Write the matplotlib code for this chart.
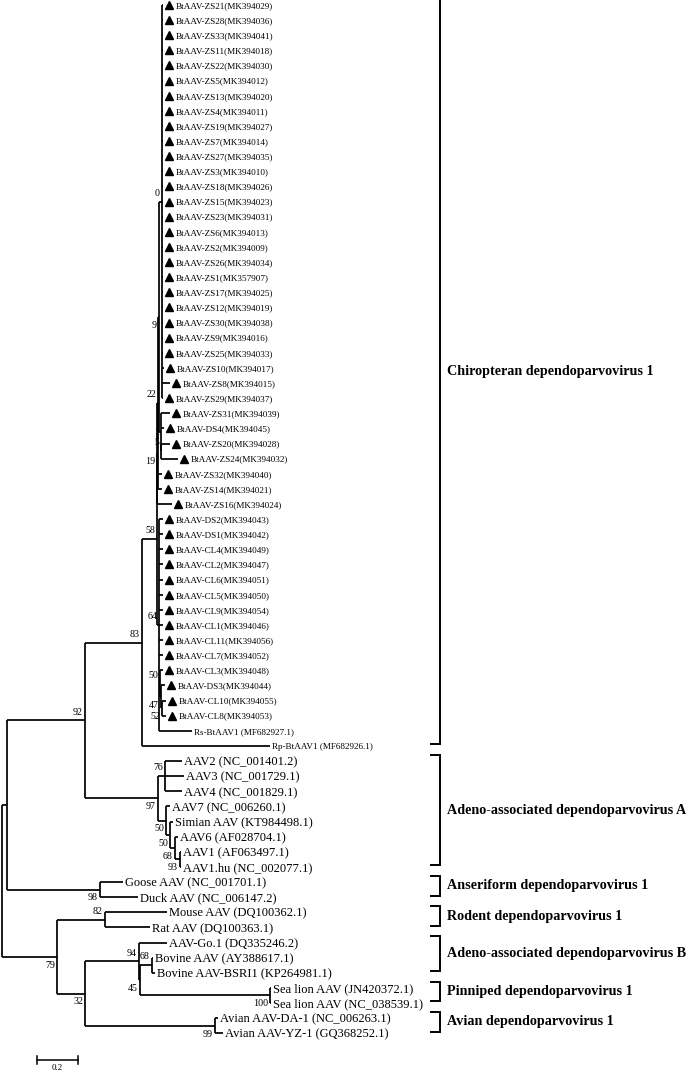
import matplotlib
matplotlib.use("Agg")
import matplotlib.pyplot as plt
from matplotlib.transforms import offset_copy

plt.rcParams['font.family'] = ['Liberation Serif', 'DejaVu Serif']

# --- tip labels, top to bottom ---
leaves = [
    "BtAAV-ZS21(MK394029)", "BtAAV-ZS28(MK394036)", "BtAAV-ZS33(MK394041)", "BtAAV-ZS11(MK394018)",
    "BtAAV-ZS22(MK394030)", "BtAAV-ZS5(MK394012)", "BtAAV-ZS13(MK394020)", "BtAAV-ZS4(MK394011)",
    "BtAAV-ZS19(MK394027)", "BtAAV-ZS7(MK394014)", "BtAAV-ZS27(MK394035)", "BtAAV-ZS3(MK394010)",
    "BtAAV-ZS18(MK394026)", "BtAAV-ZS15(MK394023)", "BtAAV-ZS23(MK394031)", "BtAAV-ZS6(MK394013)",
    "BtAAV-ZS2(MK394009)", "BtAAV-ZS26(MK394034)", "BtAAV-ZS1(MK357907)", "BtAAV-ZS17(MK394025)",
    "BtAAV-ZS12(MK394019)", "BtAAV-ZS30(MK394038)", "BtAAV-ZS9(MK394016)", "BtAAV-ZS25(MK394033)",
    "BtAAV-ZS10(MK394017)", "BtAAV-ZS8(MK394015)", "BtAAV-ZS29(MK394037)", "BtAAV-ZS31(MK394039)",
    "BtAAV-DS4(MK394045)", "BtAAV-ZS20(MK394028)", "BtAAV-ZS24(MK394032)", "BtAAV-ZS32(MK394040)",
    "BtAAV-ZS14(MK394021)", "BtAAV-ZS16(MK394024)", "BtAAV-DS2(MK394043)", "BtAAV-DS1(MK394042)",
    "BtAAV-CL4(MK394049)", "BtAAV-CL2(MK394047)", "BtAAV-CL6(MK394051)", "BtAAV-CL5(MK394050)",
    "BtAAV-CL9(MK394054)", "BtAAV-CL1(MK394046)", "BtAAV-CL11(MK394056)", "BtAAV-CL7(MK394052)",
    "BtAAV-CL3(MK394048)", "BtAAV-DS3(MK394044)", "BtAAV-CL10(MK394055)", "BtAAV-CL8(MK394053)",
    "Rs-BtAAV1 (MF682927.1)", "Rp-BtAAV1 (MF682926.1)",
    "AAV2 (NC_001401.2)", "AAV3 (NC_001729.1)", "AAV4 (NC_001829.1)", "AAV7 (NC_006260.1)",
    "Simian AAV (KT984498.1)", "AAV6 (AF028704.1)", "AAV1 (AF063497.1)", "AAV1.hu (NC_002077.1)",
    "Goose AAV (NC_001701.1)", "Duck AAV (NC_006147.2)",
    "Mouse AAV (DQ100362.1)", "Rat AAV (DQ100363.1)",
    "AAV-Go.1 (DQ335246.2)", "Bovine AAV (AY388617.1)", "Bovine AAV-BSRI1 (KP264981.1)",
    "Sea lion AAV (JN420372.1)", "Sea lion AAV (NC_038539.1)",
    "Avian AAV-DA-1 (NC_006263.1)", "Avian AAV-YZ-1 (GQ368252.1)",
]

# distance of every tip from the root (substitutions/site)
tip_depth = [
    0.785, 0.785, 0.785, 0.785, 0.785, 0.785, 0.785, 0.785, 0.785, 0.785,
    0.785, 0.785, 0.785, 0.785, 0.785, 0.785, 0.785, 0.785, 0.785, 0.785,
    0.785, 0.785, 0.785, 0.785, 0.790, 0.820, 0.785, 0.820, 0.790, 0.820,
    0.859, 0.780, 0.780, 0.829, 0.785, 0.785, 0.785, 0.785, 0.785, 0.785,
    0.785, 0.785, 0.785, 0.785, 0.785, 0.795, 0.800, 0.800, 0.927, 1.307,
    0.878, 0.888, 0.878, 0.820, 0.834, 0.859, 0.873, 0.873,
    0.590, 0.663,
    0.805, 0.722,
    0.805, 0.737, 0.746,
    1.312, 1.312,
    1.054, 1.078,
]

# internal nodes: depth from root, children (int = tip, str = node), bootstrap, label side
nodes = {
    "root": (0.000, ["nA", "n79"], "", "a"),
    "nA":   (0.024, ["n92", "nGD"], "", "a"),
    "n92":  (0.405, ["n83", "n97"], "92", "a"),
    "n83":  (0.683, ["n58", 49], "83", "a"),
    "n58":  (0.756, ["n19", "n64"], "58", "a"),
    "n19":  (0.756, ["n22", 33], "19", "b"),
    "n22":  (0.761, ["n9", 31, 32], "22", "a"),
    "n9":   (0.766, ["nTop", "n1"], "9", "b"),
    "nTop": (0.780, list(range(0, 27)), "0", "a"),
    "n1":   (0.776, [27, 28, "n5"], "1", "c"),
    "n5":   (0.778, [29, 30], "5", "a"),
    "n64":  (0.768, list(range(34, 44)) + ["n50", 48], "64", "a"),
    "n50":  (0.771, [44, "n47"], "50", "a"),
    "n47":  (0.776, [45, "n52"], "47", "b"),
    "n52":  (0.780, [46, 47], "52", "b"),
    "n97":  (0.761, ["n76", "nX"], "97", "b"),
    "n76":  (0.795, [50, 51, 52], "76", "a"),
    "nX":   (0.800, [53, "nY"], "50", "b"),
    "nY":   (0.820, [54, "nZ"], "50", "b"),
    "nZ":   (0.844, [55, "nW"], "68", "b"),
    "nW":   (0.868, [56, 57], "93", "b"),
    "nGD":  (0.478, [58, 59], "98", "b"),
    "n79":  (0.268, ["n82", "n32"], "79", "b"),
    "n82":  (0.502, [60, 61], "82", "a"),
    "n32":  (0.405, ["n94", "nAv"], "32", "b"),
    "n94":  (0.668, [62, "n45"], "94", "a"),
    "n45":  (0.673, ["n68", "nSL"], "45", "b"),
    "n68":  (0.732, [63, 64], "68", "a"),
    "nSL":  (1.307, [65, 66], "100", "b"),
    "nAv":  (1.039, [67, 68], "99", "b"),
}

# clade brackets on the right
clade_names = [
    "Chiropteran dependoparvovirus 1",
    "Adeno-associated dependoparvovirus A",
    "Anseriform dependoparvovirus 1",
    "Rodent dependoparvovirus 1",
    "Adeno-associated dependoparvovirus B",
    "Pinniped dependoparvovirus 1",
    "Avian dependoparvovirus 1",
]
clade_first = [0, 50, 58, 60, 62, 65, 67]
clade_last = [49, 57, 59, 61, 64, 66, 68]

scale_len = 0.2

PX = 205.0  # pixels per unit of branch length

fig = plt.figure(figsize=(6.97, 10.73), dpi=100)
ax = fig.add_axes([0, 0, 1, 1])
ax.set_xlim(-2 / PX, 695 / PX)
ax.set_ylim(70.63, -0.33)
ax.axis('off')

LW = 1.25


def ypos(c):
    if isinstance(c, int):
        return c
    kids = nodes[c][1]
    return (ypos(kids[0]) + ypos(kids[-1])) / 2.0


def depth(c):
    return tip_depth[c] if isinstance(c, int) else nodes[c][0]


# --- tree ---
for name, (d, kids, sup, side) in nodes.items():
    ys = [ypos(k) for k in kids]
    ax.plot([d, d], [min(ys), max(ys)], color='k', lw=LW, solid_capstyle='butt')
    for k, y in zip(kids, ys):
        ax.plot([d, depth(k)], [y, y], color='k', lw=LW, solid_capstyle='butt')
    if sup:
        dy = {"a": 6, "b": -6, "c": 0}[side]
        ax.annotate(sup, (d, ypos(name)), xytext=(-1.5, dy), textcoords='offset points',
                    ha='right', va='center', fontsize=7.2)

# --- tip labels ---
tri_tr = offset_copy(ax.transData, fig=fig, x=4.3, y=0, units='points')
for i, lab in enumerate(leaves):
    x = tip_depth[i]
    if lab.startswith("BtAAV"):
        ax.plot([x], [i], marker='^', ms=6, color='k', transform=tri_tr, clip_on=False)
        dx = 9.2
    else:
        dx = 1.5
    size = 6.6 if i < 50 else 9
    ax.annotate(lab, (x, i), xytext=(dx, 0), textcoords='offset points',
                ha='left', va='center_baseline', fontsize=size)

# --- clade brackets ---
bx1 = 438 / PX
bx0 = 429 / PX
for nm, a, b in zip(clade_names, clade_first, clade_last):
    y0 = a - 0.4
    y1 = b - 0.1
    ax.plot([bx0, bx1, bx1, bx0], [y0, y0, y1, y1], color='k', lw=1.4,
            solid_joinstyle='miter')
    ax.text(445 / PX, (y0 + y1) / 2, nm, fontsize=10.2, fontweight='bold',
            ha='left', va='center')

# --- scale bar ---
sx0 = 35 / PX
sy = 69.78
ax.plot([sx0, sx0 + scale_len], [sy, sy], color='k', lw=1.1)
ax.plot([sx0, sx0], [sy - 0.25, sy + 0.25], color='k', lw=1.1)
ax.plot([sx0 + scale_len, sx0 + scale_len], [sy - 0.25, sy + 0.25], color='k', lw=1.1)
ax.text(sx0 + scale_len / 2, sy + 0.55, str(scale_len), fontsize=6.5, ha='center', va='center')

fig.savefig("out.png", dpi=100, facecolor='white')
